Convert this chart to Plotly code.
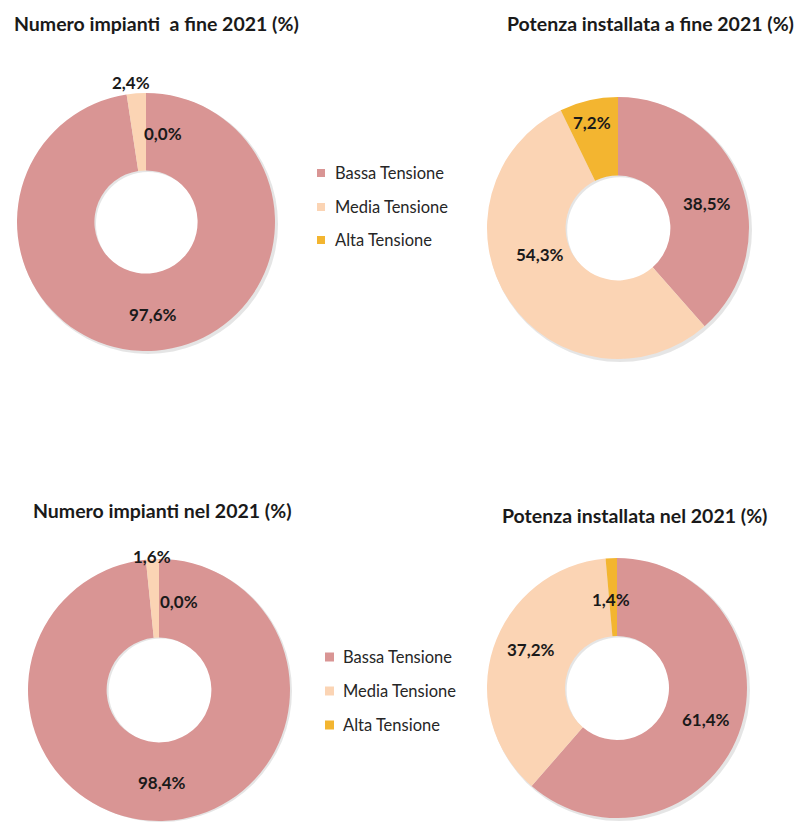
import math
import plotly.graph_objects as go

# Categories and shares (%)
categories = ["Bassa Tensione", "Media Tensione", "Alta Tensione"]
colors = ["#D99594", "#FBD4B4", "#F3B530"]

numero_fine_2021 = [97.6, 2.4, 0.0]
potenza_fine_2021 = [38.5, 54.3, 7.2]
numero_nel_2021 = [98.4, 1.6, 0.0]
potenza_nel_2021 = [61.4, 37.2, 1.4]

titles = [
    "Numero impianti  a fine 2021 (%)",
    "Potenza installata a fine 2021 (%)",
    "Numero impianti nel 2021 (%)",
    "Potenza installata nel 2021 (%)",
]

W, H = 797, 822
FONT = "Lato, Carlito, Calibri, sans-serif"

# Donut geometry in pixels: centre x, centre y, radius
donuts = [
    dict(values=numero_fine_2021, cx=146, cy=222, r=129, title_xy=(156, 24),
         label_style=[(0.72, 0), (1.09, -2), (0.70, 11)]),
    dict(values=potenza_fine_2021, cx=618, cy=228, r=131, title_xy=(650, 24),
         label_style=[(0.705, 5), (0.63, 15), (0.83, -1)]),
    dict(values=numero_nel_2021, cx=159, cy=690, r=131, title_xy=(162, 510),
         label_style=[(0.71, 1), (1.02, 0), (0.69, 13)]),
    dict(values=potenza_nel_2021, cx=617, cy=688, r=130, title_xy=(634, 515),
         label_style=[(0.73, -1), (0.72, 6), (0.68, -1.5)]),
]


def px(x):
    return min(max(x / W, 0.0), 1.0)


def py(y):
    return min(max(1 - y / H, 0.0), 1.0)


def fmt(v):
    return f"{v:.1f}".replace(".", ",") + "%"


fig = go.Figure()
annotations = []
shapes = []

for d, title in zip(donuts, titles):
    cx, cy, r = d["cx"], d["cy"], d["r"]
    # soft outer shadow behind each ring
    sdx, sdy = 2, 2
    fig.add_trace(go.Pie(
        values=[1], labels=["shadow"], marker=dict(colors=["rgba(0,0,0,0.10)"]),
        hole=0.4, textinfo="none", hoverinfo="skip", showlegend=False, sort=False,
        domain=dict(x=[px(cx - r - 1 + sdx), px(cx + r + 1 + sdx)],
                    y=[py(cy + r + 1 + sdy), py(cy - r - 1 + sdy)]),
    ))
    fig.add_trace(go.Pie(
        labels=categories, values=d["values"], marker=dict(colors=colors, line=dict(width=0)),
        hole=0.4, sort=False, direction="clockwise", rotation=0,
        textinfo="none", showlegend=False,
        domain=dict(x=[px(cx - r), px(cx + r)], y=[py(cy + r), py(cy - r)]),
    ))
    # value labels placed at each slice's mid-angle
    total = sum(d["values"])
    start = 0.0
    for v, (rf, nudge) in zip(d["values"], d["label_style"]):
        mid = (start + v / 2) / total * 360 + nudge
        start += v
        lx = cx + rf * r * math.sin(math.radians(mid))
        ly = cy - rf * r * math.cos(math.radians(mid))
        annotations.append(dict(
            x=px(lx), y=py(ly), xref="paper", yref="paper", text=f"<b>{fmt(v)}</b>",
            showarrow=False, font=dict(family=FONT, size=17, color="#1a1a1a"),
            xanchor="center", yanchor="middle",
        ))
    annotations.append(dict(
        x=px(d["title_xy"][0]), y=py(d["title_xy"][1]), xref="paper", yref="paper",
        text=f"<b>{title}</b>", showarrow=False,
        font=dict(family=FONT, size=19.5, color="#1a1a1a"),
        xanchor="center", yanchor="middle",
    ))

# Legends between the two columns
legends = [dict(sq_x=317, txt_x=333, rows=[173, 207, 240], sq=8),
           dict(sq_x=325, txt_x=341, rows=[657, 691, 725], sq=9)]
for lg in legends:
    for cat, col, y in zip(categories, colors, lg["rows"]):
        s = lg["sq"]
        shapes.append(dict(type="rect", xref="paper", yref="paper",
                           x0=px(lg["sq_x"]), x1=px(lg["sq_x"] + s),
                           y0=py(y + s / 2), y1=py(y - s / 2),
                           fillcolor=col, line=dict(width=0)))
        annotations.append(dict(
            x=px(lg["txt_x"]), y=py(y), xref="paper", yref="paper", text=cat,
            showarrow=False, font=dict(family=FONT, size=16.5, color="#262626"),
            xanchor="left", yanchor="middle",
        ))

fig.update_layout(
    width=W, height=H, margin=dict(l=0, r=0, t=0, b=0),
    paper_bgcolor="white", plot_bgcolor="white",
    annotations=annotations, shapes=shapes, showlegend=False,
)

fig.write_html("out.html")
